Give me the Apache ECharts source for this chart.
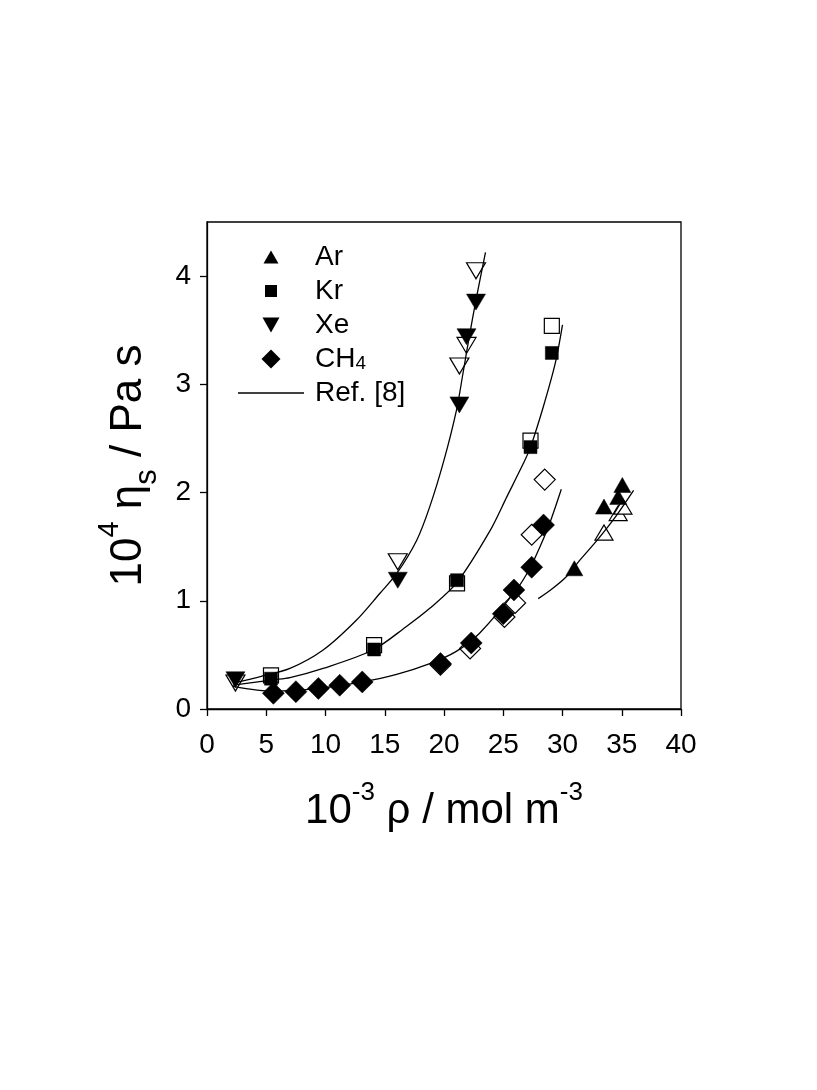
<!DOCTYPE html>
<html>
<head>
<meta charset="utf-8">
<script src="https://cdn.jsdelivr.net/npm/echarts@6/dist/echarts.min.js"></script>
<style>
  html, body { margin: 0; padding: 0; background: #fff; }
  #main { width: 817px; height: 1090px; }
</style>
</head>
<body>
<div id="main"></div>
<script>
// measured points [density, viscosity]; filled = this work, open = second set
const arFilled = [[31.0, 1.30], [33.5, 1.87], [34.7, 1.96], [35.05, 2.07]];
const arOpen = [[33.5, 1.63], [34.7, 1.81], [35.1, 1.87]];
const krFilled = [[5.4, 0.28], [14.1, 0.55], [21.1, 1.19], [27.3, 2.42], [29.1, 3.29]];
const krOpen = [[5.4, 0.31], [14.1, 0.59], [21.1, 1.16], [27.3, 2.48], [29.1, 3.54]];
const xeFilled = [[2.4, 0.27], [16.1, 1.19], [21.3, 2.81], [21.9, 3.44], [22.7, 3.76]];
const xeOpen = [[2.4, 0.24], [16.1, 1.36], [21.3, 3.17], [21.9, 3.36], [22.7, 4.05]];
const ch4Filled = [[5.6, 0.145], [7.5, 0.16], [9.4, 0.19], [11.2, 0.22], [13.1, 0.25],
    [19.7, 0.42], [22.3, 0.61], [25.0, 0.88], [25.9, 1.10], [27.4, 1.31], [28.4, 1.70]];
const ch4Open = [[19.7, 0.41], [22.2, 0.56], [25.1, 0.85], [26.0, 0.98], [27.4, 1.61], [28.5, 2.12]];

// Ref. [8] curves
const xeCurve = [[2.2, 0.24], [4.5, 0.30], [7.0, 0.375], [9.8, 0.545], [12.6, 0.82], [14.6, 1.07],
    [16.0, 1.25], [17.7, 1.56], [18.8, 1.87], [20.0, 2.30], [21.05, 2.76], [21.6, 3.10],
    [22.1, 3.42], [22.7, 3.78], [23.5, 4.22]];
const krCurve = [[2.2, 0.22], [5.6, 0.27], [7.0, 0.29], [9.8, 0.375], [14.0, 0.545], [16.8, 0.76],
    [18.8, 0.93], [21.1, 1.17], [23.9, 1.65], [25.3, 1.96], [26.7, 2.27], [27.3, 2.42],
    [28.4, 2.80], [29.4, 3.20], [30.0, 3.55]];
const ch4Curve = [[2.2, 0.21], [5.6, 0.165], [9.4, 0.19], [13.1, 0.25], [16.0, 0.32], [18.8, 0.42],
    [21.0, 0.53], [23.0, 0.70], [26.1, 1.10], [27.25, 1.30], [28.1, 1.50], [28.9, 1.71], [29.9, 2.03]];
const arCurve = [[27.95, 1.02], [29.0, 1.10], [30.3, 1.22], [31.5, 1.38], [33.0, 1.57], [34.5, 1.78], [36.0, 2.02]];

const xTickValues = [0, 5, 10, 15, 20, 25, 30, 35, 40];
const yTickValues = [0, 1, 2, 3, 4];

const FONT = "Liberation Sans, Arial, Helvetica, sans-serif";
const downTri = "path://M0,0L20,0L10,17Z";
// legend icons: the bare M points pad each shape inside a 22x22 box
const pad = "M0,0M22,22";
const legTri = "path://" + pad + "M3.5,17.5L18.5,17.5L11,4.5Z";
const legSquare = "path://" + pad + "M5,5L17,5L17,17L5,17Z";
const legDown = "path://" + pad + "M2.5,3.5L19.5,3.5L11,18.5Z";
const legDiamond = "path://" + pad + "M11,1.5L20.5,11L11,20.5L1.5,11Z";
const legLine = "path://M0,0L66,0L66,1.3L0,1.3Z";

const chartDom = document.getElementById("main");
const myChart = echarts.init(chartDom);

const scatter = (name, data, symbol, size, open) => ({
    name: name,
    type: "scatter",
    data: data,
    symbol: symbol,
    symbolSize: size,
    itemStyle: open
        ? { color: "#fff", borderColor: "#000", borderWidth: 1.2, opacity: 1 }
        : { color: "#000", borderColor: "#000", borderWidth: 0.5, opacity: 1 },
    silent: true,
});

const curve = data => ({
    name: "Ref. [8]",
    type: "line",
    data: data,
    smooth: 0.3,
    symbol: "none",
    lineStyle: { color: "#000", width: 1.3 },
    itemStyle: { color: "#000" },
    silent: true,
});

const option = {
    backgroundColor: "#fff",
    animation: false,
    textStyle: { fontFamily: FONT },
    grid: {
        left: 207, right: 136, top: 222, bottom: 381,
        show: true, borderColor: "#000", borderWidth: 1.3, backgroundColor: "transparent",
    },
    legend: {
        orient: "vertical",
        left: 233,
        top: 238,
        itemWidth: 66,
        itemHeight: 22,
        itemGap: 6,
        itemStyle: { color: "#000", borderWidth: 0 },
        data: [
            { name: "Ar", icon: legTri },
            { name: "Kr", icon: legSquare },
            { name: "Xe", icon: legDown },
            { name: "CH4", icon: legDiamond },
            { name: "Ref. [8]", icon: legLine },
        ],
        formatter: name => (name === "CH4" ? "{n|CH}{sub|4}" : name),
        textStyle: {
            fontFamily: FONT, fontSize: 28, color: "#000",
            padding: [0, 0, 0, 6],
            rich: {
                n: { fontFamily: FONT, fontSize: 28, color: "#000", verticalAlign: "bottom" },
                sub: { fontFamily: FONT, fontSize: 19, color: "#000", verticalAlign: "bottom" },
            },
        },
    },
    xAxis: {
        type: "value",
        min: 0, max: 40, interval: 5,
        name: "10{sup|-3} ρ / mol m{sup|-3}",
        nameLocation: "middle",
        nameGap: 71,
        nameTextStyle: {
            fontFamily: FONT, fontSize: 42, color: "#000",
            rich: { sup: { fontFamily: FONT, fontSize: 26, color: "#000", padding: [0, 0, 37, 0] } },
        },
        axisLine: { onZero: false, lineStyle: { color: "#000", width: 1.3 } },
        axisTick: { show: true, inside: false, length: 7, customValues: xTickValues,
            lineStyle: { color: "#000", width: 1.3 } },
        axisLabel: { fontFamily: FONT, fontSize: 28, color: "#000", margin: 22, customValues: xTickValues },
        splitLine: { show: false },
    },
    yAxis: {
        type: "value",
        min: 0, max: 4.5, interval: 1,
        name: "10{sup|4} η{sub|s} / Pa s",
        nameLocation: "middle",
        nameGap: 44,
        nameTextStyle: {
            fontFamily: FONT, fontSize: 44, color: "#000",
            rich: {
                sup: { fontFamily: FONT, fontSize: 29, color: "#000", padding: [0, 0, 37, 0] },
                sub: { fontFamily: FONT, fontSize: 31, color: "#000", padding: [38, 0, 0, 0] },
            },
        },
        axisLine: { onZero: false, lineStyle: { color: "#000", width: 1.3 } },
        axisTick: { show: true, inside: false, length: 7, customValues: yTickValues,
            lineStyle: { color: "#000", width: 1.3 } },
        axisLabel: { fontFamily: FONT, fontSize: 28, color: "#000", margin: 16, customValues: yTickValues },
        splitLine: { show: false },
    },
    series: [
        scatter("Ar open", arOpen, "triangle", [18, 15], true),
        scatter("Kr open", krOpen, "rect", 15, true),
        scatter("Xe open", xeOpen, downTri, [19, 16], true),
        scatter("CH4 open", ch4Open, "diamond", [21, 21], true),
        scatter("Ar", arFilled, "triangle", [17, 15], false),
        scatter("Kr", krFilled, "rect", 13, false),
        scatter("Xe", xeFilled, downTri, [19, 16], false),
        scatter("CH4", ch4Filled, "diamond", [22, 22], false),
        curve(xeCurve),
        curve(krCurve),
        curve(ch4Curve),
        curve(arCurve),
    ],
};

myChart.setOption(option);
</script>
</body>
</html>
